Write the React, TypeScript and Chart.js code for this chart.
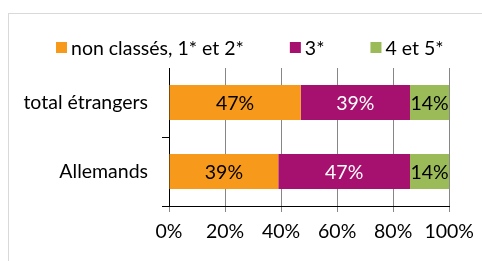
import React, { useEffect, useRef } from "react";
import { Chart, registerables } from "chart.js";

Chart.register(...registerables);

const categories = ["total étrangers", "Allemands"];
const seriesLabels = ["non classés, 1* et 2*", "3*", "4 et 5*"];
const lowStars = [47, 39];
const threeStars = [39, 47];
const highStars = [14, 14];
const xTickValues = [0, 20, 40, 60, 80, 100];

const seriesColors = ["#F7991A", "#A6106E", "#9BBB59"];
const valueLabelColors = ["#000000", "#ffffff", "#000000"];

const FONT = "Lato, 'Open Sans', 'DejaVu Sans', sans-serif";
const FONT_SIZE = 19.5;

const valueLabelPlugin = {
  id: "valueLabels",
  afterDatasetsDraw(chart: any) {
    const ctx = chart.ctx;
    ctx.save();
    ctx.font = `${FONT_SIZE}px ${FONT}`;
    ctx.textAlign = "center";
    ctx.textBaseline = "middle";
    chart.data.datasets.forEach((ds: any, i: number) => {
      const meta = chart.getDatasetMeta(i);
      meta.data.forEach((bar: any, j: number) => {
        const p = bar.getProps(["x", "y", "base"], true);
        ctx.fillStyle = valueLabelColors[i];
        ctx.fillText(`${ds.data[j]}%`, (p.x + p.base) / 2, p.y + 1);
      });
    });
    ctx.restore();
  },
};

const legendPlugin = {
  id: "customLegend",
  afterDraw(chart: any) {
    const ctx = chart.ctx;
    ctx.save();
    ctx.font = `${FONT_SIZE}px ${FONT}`;
    ctx.textBaseline = "middle";
    ctx.textAlign = "left";
    const box = 11;
    const gapBoxText = 4;
    const gapItems = 46;
    const yMid = 47.5;
    let x = 56;
    chart.data.datasets.forEach((ds: any) => {
      ctx.fillStyle = ds.backgroundColor;
      ctx.fillRect(x, yMid - box / 2, box, box);
      x += box + gapBoxText;
      ctx.fillStyle = "#000000";
      ctx.fillText(ds.label, x, yMid + 1);
      x += ctx.measureText(ds.label).width + gapItems;
    });
    ctx.restore();
  },
};

export default function App() {
  const ref = useRef<HTMLCanvasElement | null>(null);

  useEffect(() => {
    if (!ref.current) return;
    const datasets = [lowStars, threeStars, highStars].map((d, i) => ({
      label: seriesLabels[i],
      data: d,
      backgroundColor: seriesColors[i],
      borderWidth: 0,
      categoryPercentage: 1,
      barPercentage: 0.507,
    }));
    const chart = new Chart(ref.current, {
      type: "bar",
      data: { labels: categories, datasets },
      options: {
        indexAxis: "y",
        animation: false,
        responsive: false,
        maintainAspectRatio: false,
        layout: { padding: { top: 68, right: 32, bottom: 0, left: 0 } },
        plugins: {
          legend: { display: false },
          tooltip: { enabled: false },
        },
        scales: {
          x: {
            stacked: true,
            min: 0,
            max: 100,
            afterBuildTicks: (scale: any) => {
              scale.ticks = xTickValues.map((v) => ({ value: v }));
            },
            afterFit: (scale: any) => {
              scale.height = 55;
            },
            ticks: {
              callback: (v: any) => `${v}%`,
              font: { family: FONT, size: FONT_SIZE },
              color: "#000000",
              padding: 8,
              maxRotation: 0,
            },
            grid: {
              color: "#868686",
              lineWidth: 1,
              tickLength: 6,
              drawTicks: true,
            },
            border: { color: "#000000", width: 1 },
          },
          y: {
            stacked: true,
            afterFit: (scale: any) => {
              scale.width = 169;
            },
            ticks: {
              font: { family: FONT, size: FONT_SIZE },
              color: "#000000",
              padding: 14,
            },
            grid: {
              offset: true,
              drawOnChartArea: false,
              drawTicks: true,
              tickLength: 7,
              color: (c: any) => (c.index === 0 ? "rgba(0,0,0,0)" : "#000000"),
            },
            border: { color: "#000000", width: 1 },
          },
        },
      },
      plugins: [valueLabelPlugin, legendPlugin],
    });
    return () => chart.destroy();
  }, []);

  return (
    <div style={{ position: "fixed", left: 0, top: 0, width: 482, height: 261, background: "#ffffff" }}>
      <div
        style={{
          position: "absolute",
          left: 8,
          top: 13,
          width: 500,
          height: 300,
          border: "1px solid #d9d9d9",
          boxSizing: "border-box",
        }}
      />
      <canvas
        ref={ref}
        width={482}
        height={261}
        style={{ position: "absolute", left: 0, top: 0, width: 482, height: 261 }}
      />
    </div>
  );
}
